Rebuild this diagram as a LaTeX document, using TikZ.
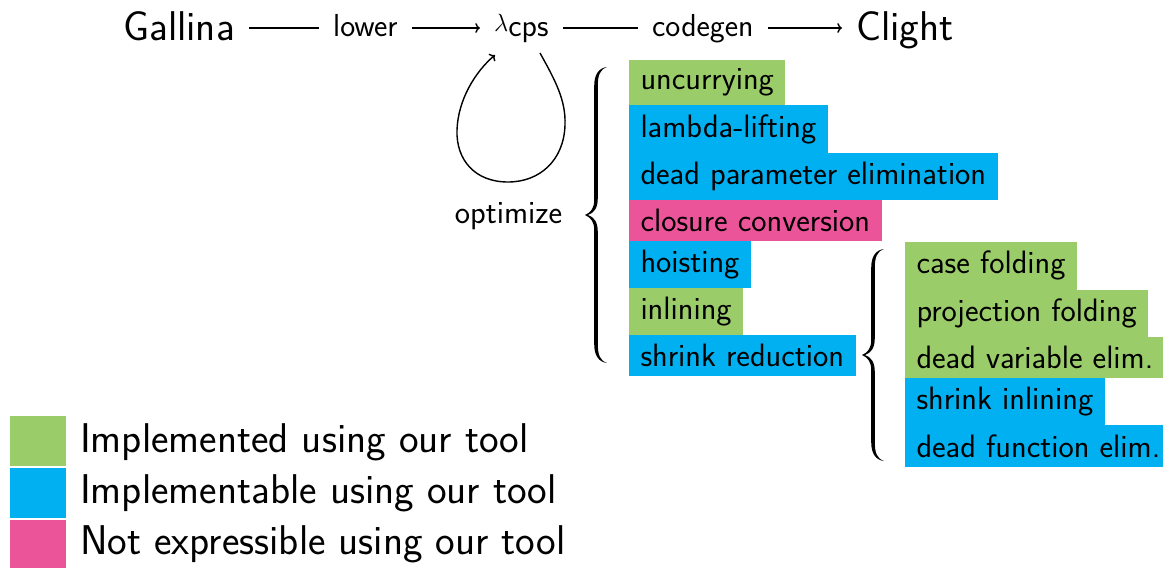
\documentclass[tikz,border=0pt]{standalone}
\usepackage{fontspec}
\usetikzlibrary{arrows.meta}
\definecolor{cgreen}{RGB}{155,204,106}
\definecolor{cblue}{RGB}{0,176,240}
\definecolor{cpink}{RGB}{236,84,154}
% filled TeX-like curly brace, centred on the current origin, half-height #1
\newcommand{\drawbrace}[1]{%
  \fill (11,{-#1-1}) .. controls (3,{-#1}) and (-1.8,{-#1+6}) .. (-1.8,{-#1+18})
    -- (-1.8,-15) .. controls (-1.8,-7) and (-5,-2.5) .. (-11,0)
    .. controls (-5,2.5) and (-1.8,7) .. (-1.8,15)
    -- (-1.8,{#1-18}) .. controls (-1.8,{#1-6}) and (3,{#1}) .. (11,{#1+1})
    .. controls (4,{#1-1.5}) and (1.8,{#1-7}) .. (1.8,{#1-18})
    -- (1.8,17) .. controls (1.8,7) and (-2,2) .. (-8,0)
    .. controls (-2,-2) and (1.8,-7) .. (1.8,-17)
    -- (1.8,{-#1+18}) .. controls (1.8,{-#1+7}) and (4,{-#1+1.5}) .. (11,{-#1-1}) -- cycle;}
\begin{document}
\begin{tikzpicture}[x=1pt,y=-1pt,
  item/.style={anchor=north west, inner xsep=11.5pt, inner ysep=9.1pt, outer sep=0pt,
    font=\fontsize{32.4}{38}\selectfont\sffamily},
  grn/.style={item, fill=cgreen},
  blu/.style={item, fill=cblue},
  pnk/.style={item, fill=cpink},
  bigtext/.style={anchor=base west, inner xsep=14pt, inner ysep=0pt, font=\fontsize{41.6}{48}\selectfont\sffamily},
  lbltext/.style={anchor=base west, inner xsep=14pt, inner ysep=0pt, font=\fontsize{31.8}{38}\selectfont\sffamily},
  conn/.style={line width=1.4pt},
  legsq/.style={anchor=north west, inner sep=0pt, minimum width=56pt, minimum height=50pt},
  legtext/.style={anchor=base west, inner sep=0pt, font=\fontsize{41.6}{48}\selectfont\sffamily}
]
\useasboundingbox (0,0) rectangle (1163,568);

% top row
\node[bigtext] (gal) at (109,40) {Gallina};
\node[lbltext] (low) at (319,36) {lower};
\node[anchor=base west, inner xsep=14pt, inner ysep=0pt] (lam) at (480,31.5)
  {{\fontsize{27}{30}\selectfont$\lambda$}\raisebox{-4.5pt}{\fontsize{31.8}{38}\selectfont\sffamily cps}};
\node[lbltext] (cod) at (638,36) {codegen};
\node[bigtext] (cli) at (842,40) {Clight};

\draw[conn] (gal.east |- 0,28) -- (low.west |- 0,28);
\draw[conn,->] (low.east |- 0,28) -- (lam.west |- 0,28);
\draw[conn] (lam.east |- 0,28) -- (cod.west |- 0,28);
\draw[conn,->] (cod.east |- 0,28) -- (cli.west |- 0,28);

% optimize loop
\coordinate (ls) at (540,53);
\coordinate (le) at (495,55);
\draw[conn,->] (ls) .. controls (555,80) and (566,100) .. (565,125)
  .. controls (564,160) and (540,182) .. (508,182)
  .. controls (475,182) and (456,160) .. (457,130)
  .. controls (458,100) and (475,72) .. (le);
\node[font=\fontsize{32.4}{38}\selectfont\sffamily, inner sep=0pt, anchor=base] (opt) at (508.5,223) {optimize};

% braces
\begin{scope}[shift={(596,215)}]\drawbrace{147}\end{scope}
\begin{scope}[shift={(873,355)}]\drawbrace{105}\end{scope}

% first list
\node[grn] (i1) at (629,59.5) {uncurrying};
\node[blu] (i2) at (i1.south west) {lambda-lifting};
\node[blu] (i3) at (i2.south west) {dead parameter elimination};
\node[pnk] (i4) at (i3.south west) {closure conversion};
\node[blu] (i5) at (i4.south west) {hoisting};
\node[grn] (i6) at (i5.south west) {inlining};
\node[blu] (i7) at (i6.south west) {shrink reduction};

% second list
\node[grn] (j1) at (905,242) {case folding};
\node[grn] (j2) at (j1.south west) {projection folding};
\node[grn] (j3) at (j2.south west) {dead variable elim.};
\node[blu] (j4) at (j3.south west) {shrink inlining};
\node[blu] (j5) at (j4.south west) {dead function elim.};

% legend
\node[legsq, fill=cgreen] (lg1) at (10,416) {};
\node[legsq, fill=cblue] (lg2) at (10,468) {};
\node[legsq, fill=cpink] (lg3) at (10,520) {};
\node[legtext] (lt1) at (80,452) {Implemented using our tool};
\node[legtext] (lt2) at (80,503) {Implementable using our tool};
\node[legtext] (lt3) at (80,554) {Not expressible using our tool};
\end{tikzpicture}
\end{document}
